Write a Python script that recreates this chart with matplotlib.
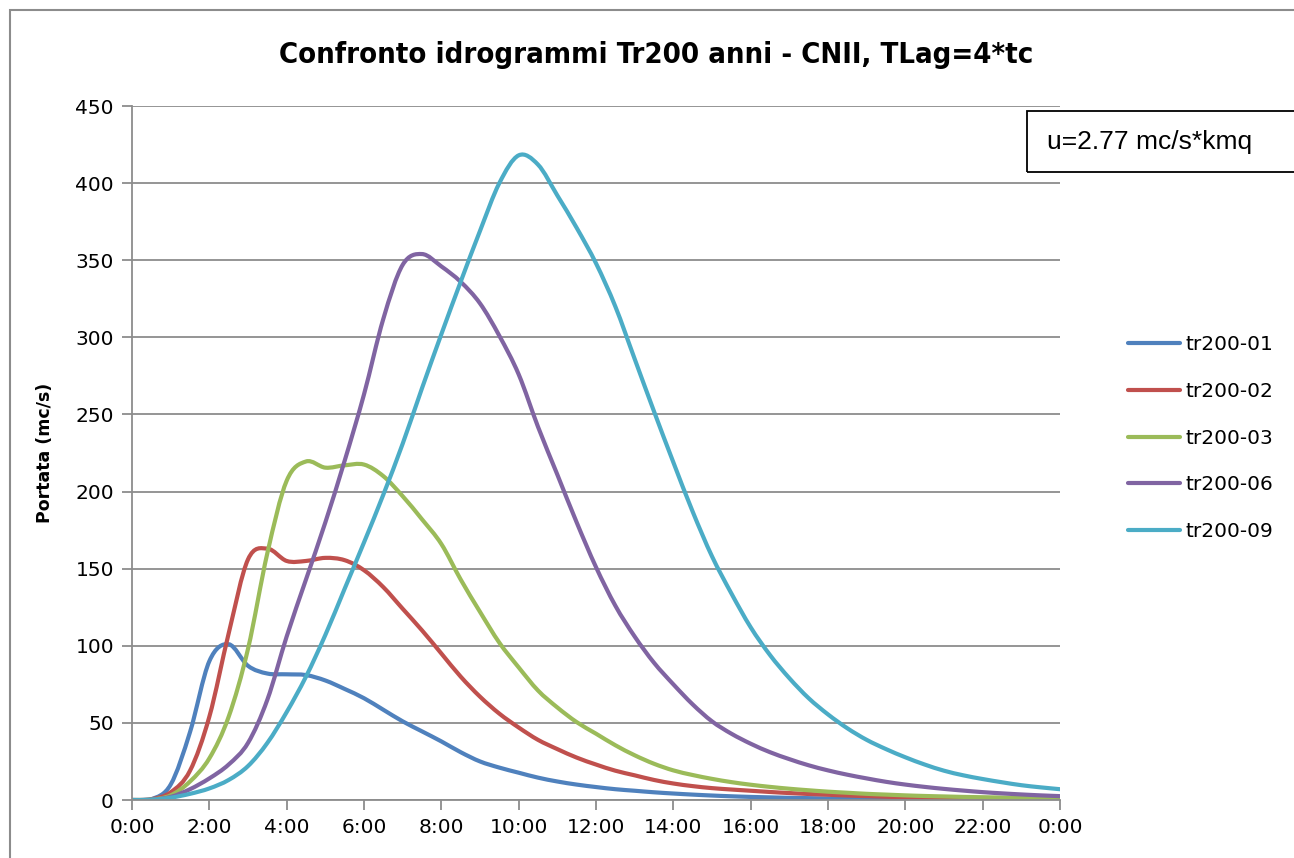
import matplotlib
matplotlib.use("Agg")
import matplotlib.pyplot as plt
from matplotlib.patches import Rectangle, PathPatch
from matplotlib.path import Path
from matplotlib.lines import Line2D
import numpy as np

# ---- data ----
hours = [i * 0.5 for i in range(49)]  # 0:00 .. 24:00 every 30 minutes

tr200_01 = [0, 0.5, 10, 44, 90, 101, 87, 82, 81.5, 81, 77.5, 72, 66, 58.5, 51, 44.5,
            38, 31, 25, 21, 17.7, 14.5, 12, 10, 8.4, 7, 6, 5, 4.2, 3.5, 2.9, 2.4, 2.0,
            1.7, 1.4, 1.2, 1.0, 0.85, 0.7, 0.6, 0.5, 0.45, 0.4, 0.35, 0.3, 0.25, 0.22, 0.2, 0.18]
tr200_02 = [0, 0.5, 5, 19, 54, 108, 156, 163, 155, 155, 157, 155.5, 149, 138, 124, 110,
            95, 80, 67, 56, 47, 39, 33, 27.5, 23, 19, 16, 13, 10.7, 9, 7.7, 6.8, 6,
            5.2, 4.5, 3.9, 3.4, 2.9, 2.5, 2.1, 1.8, 1.5, 1.3, 1.1, 0.9, 0.8, 0.7, 0.6, 0.5]
tr200_03 = [0, 0.3, 3, 12, 27, 54, 98, 160, 207, 219.5, 215.5, 217, 217.5, 210, 197, 182,
            166, 143, 122, 102, 86, 71, 60, 50.5, 43, 35.5, 29, 23.5, 19.2, 16.2, 13.7, 11.6, 9.9,
            8.5, 7.3, 6.3, 5.4, 4.7, 4.0, 3.5, 3.0, 2.6, 2.3, 2.0, 1.8, 1.6, 1.4, 1.25, 1.1]
tr200_06 = [0, 0.2, 2, 7, 14, 23, 37, 65, 106, 143, 180, 220, 263, 312, 347, 354,
            346, 336, 322, 301, 276, 242, 211, 180, 151, 126, 106, 89, 75, 62, 51, 43, 36.5,
            31, 26.5, 22.5, 19.2, 16.4, 14, 11.8, 10, 8.5, 7.2, 6.1, 5.1, 4.3, 3.6, 3.0, 2.5]
tr200_09 = [0, 0.2, 1.5, 4, 7.5, 13, 22, 37, 57, 80, 107, 137, 167, 198, 231, 267,
            302, 336, 369, 400, 418, 412, 392, 371, 348, 320, 286, 252, 219, 187, 158, 134, 112,
            94, 79, 66, 55.5, 46.5, 39, 33, 27.7, 23, 19, 16, 13.6, 11.5, 9.6, 8.2, 7]

series_names = ["tr200-01", "tr200-02", "tr200-03", "tr200-06", "tr200-09"]
series_values = [tr200_01, tr200_02, tr200_03, tr200_06, tr200_09]
colors = ["#4F81BD", "#C0504D", "#9BBB59", "#8064A2", "#4BACC6"]

x_ticks = list(range(0, 25, 2))
x_tick_labels = ["0:00", "2:00", "4:00", "6:00", "8:00", "10:00", "12:00",
                 "14:00", "16:00", "18:00", "20:00", "22:00", "0:00"]
y_ticks = list(range(0, 451, 50))

title = "Confronto idrogrammi Tr200 anni - CNII, TLag=4*tc"
y_label = "Portata (mc/s)"
note = "u=2.77 mc/s*kmq"

LW = 3.0


def smooth_path(xs, ys):
    """Excel-style 'smoothed line': Bezier segments through the data points."""
    xs = np.asarray(xs, float)
    ys = np.asarray(ys, float)
    n = len(xs)
    verts = [(xs[0], ys[0])]
    codes = [Path.MOVETO]
    for i in range(n - 1):
        p0 = np.array([xs[max(i - 1, 0)], ys[max(i - 1, 0)]])
        p1 = np.array([xs[i], ys[i]])
        p2 = np.array([xs[i + 1], ys[i + 1]])
        p3 = np.array([xs[min(i + 2, n - 1)], ys[min(i + 2, n - 1)]])
        c1 = p1 + (p2 - p0) / 6.0
        c2 = p2 - (p3 - p1) / 6.0
        verts += [tuple(c1), tuple(c2), tuple(p2)]
        codes += [Path.CURVE4, Path.CURVE4, Path.CURVE4]
    return Path(verts, codes)


# ---- figure ----
W, H = 1294, 858
fig = plt.figure(figsize=(W / 100, H / 100), dpi=100)

def fx(x):
    return x / W

def fy(y):
    return 1 - y / H

# outer chart border
fig.patches.append(Rectangle((fx(10), fy(900)), fx(1400), fy(10) - fy(900),
                             transform=fig.transFigure, fill=False,
                             edgecolor="#8C8C8C", linewidth=1.5))

ax = fig.add_axes([fx(132), fy(800), fx(1060) - fx(132), fy(106) - fy(800)])
handles = []
for name, vals, c in zip(series_names, series_values, colors):
    patch = PathPatch(smooth_path(hours, vals), facecolor="none", edgecolor=c,
                      linewidth=LW, joinstyle="round", capstyle="round")
    ax.add_patch(patch)
    handles.append(Line2D([], [], color=c, linewidth=LW, solid_capstyle="round"))

ax.set_xlim(0, 24)
ax.set_ylim(0, 450)
ax.set_xticks(x_ticks)
ax.set_xticklabels(x_tick_labels)
ax.set_yticks(y_ticks)
ax.yaxis.grid(True, color="#8C8C8C", linewidth=1.3)
ax.set_axisbelow(True)
for s in ["top", "right"]:
    ax.spines[s].set_visible(False)
for s in ["left", "bottom"]:
    ax.spines[s].set_color("#8C8C8C")
    ax.spines[s].set_linewidth(1.3)
ax.tick_params(axis="both", direction="out", color="#8C8C8C", width=1.3,
               length=7, labelsize=14.5, labelcolor="black")
ax.tick_params(axis="x", pad=6)
ax.tick_params(axis="y", pad=6)
for lab in ax.get_xticklabels() + ax.get_yticklabels():
    lab.set_family("DejaVu Sans")

fig.text(fx(656), fy(55), title, ha="center", va="center",
         fontsize=21, fontweight="bold", family="DejaVu Sans", fontstretch="condensed")
fig.text(fx(45), fy(453), y_label, ha="center", va="center", rotation=90,
         fontsize=12.5, fontweight="bold", family="DejaVu Sans")

# note box
fig.patches.append(Rectangle((fx(1027), fy(172)), fx(1400), fy(111) - fy(172),
                             transform=fig.transFigure, fill=False,
                             edgecolor="black", linewidth=1.3))
fig.text(fx(1047), fy(142), note, ha="left", va="center", fontsize=19,
         family="Liberation Sans")

leg = fig.legend(handles=handles, labels=series_names,
                 loc="upper left", bbox_to_anchor=(fx(1120), fy(327)),
                 frameon=False, fontsize=14.5, handlelength=2.6,
                 handletextpad=0.25, labelspacing=1.38, borderaxespad=0)
for t in leg.get_texts():
    t.set_family("DejaVu Sans")

fig.savefig("out.png", dpi=100)
